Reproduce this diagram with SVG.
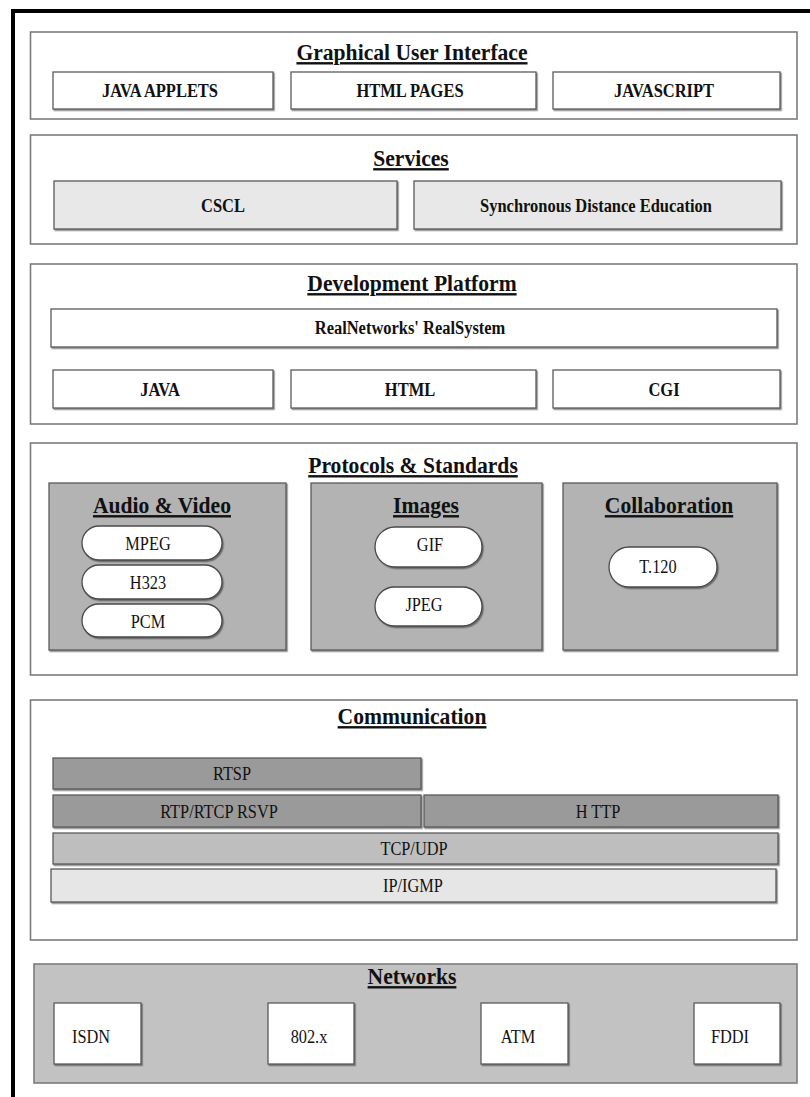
<svg xmlns="http://www.w3.org/2000/svg" width="810" height="1097" viewBox="0 0 810 1097">
  <defs>
    <filter id="sh" x="-5%" y="-10%" width="110%" height="130%">
      <feDropShadow dx="1.2" dy="1.4" stdDeviation="0.6" flood-color="#333" flood-opacity="0.55"/>
    </filter>
    <style>
      .sec { fill: #ffffff; stroke: #7c7c7c; stroke-width: 1.6; }
      .box { fill: #ffffff; stroke: #5a5a5a; stroke-width: 1.3; filter: url(#sh); }
      .lite { fill: #e8e8e8; }
      .mid { fill: #b3b3b3; }
      .dark { fill: #9a9a9a; }
      .tcp { fill: #bebebe; }
      .ip { fill: #e6e6e6; }
      .net { fill: #c2c2c2; }
      .pill { fill: #ffffff; stroke: #4a4a4a; stroke-width: 1.3; filter: url(#sh); }
      text { font-family: "Liberation Serif", "Times New Roman", serif; fill: #111111; text-anchor: middle;
             transform-box: fill-box; transform-origin: center; }
      .title { font-size: 24px; font-weight: bold; text-decoration: underline; transform: scaleX(0.9); }
      .lb { font-size: 18.5px; font-weight: bold; transform: scaleX(0.89); }
      .lr { font-size: 19px; transform: scaleX(0.86); }
    </style>
  </defs>

  <rect width="810" height="1097" fill="#ffffff"/>

  <!-- outer frame -->
  <path d="M13,1097 V11 H810" fill="none" stroke="#000" stroke-width="4"/>

  <!-- Graphical User Interface layer -->
  <g id="gui">
    <rect class="sec" x="30.5" y="32" width="766.5" height="87"/>
    <text class="title" x="412" y="60">Graphical User Interface</text>
    <g id="java-applets">
      <rect class="box" x="53" y="72" width="220" height="37"/>
      <text class="lb" x="160" y="97">JAVA APPLETS</text>
    </g>
    <g id="html-pages">
      <rect class="box" x="291" y="72" width="245" height="37"/>
      <text class="lb" x="410" y="97">HTML PAGES</text>
    </g>
    <g id="javascript">
      <rect class="box" x="553" y="72" width="227" height="37"/>
      <text class="lb" x="664" y="97">JAVASCRIPT</text>
    </g>
  </g>

  <!-- Services layer -->
  <g id="services">
    <rect class="sec" x="30.5" y="135" width="766.5" height="109"/>
    <text class="title" x="411" y="166">Services</text>
    <g id="cscl">
      <rect class="box lite" x="54" y="181" width="343" height="48"/>
      <text class="lb" x="223" y="212">CSCL</text>
    </g>
    <g id="sde">
      <rect class="box lite" x="414" y="181" width="367" height="48"/>
      <text class="lb" x="596" y="212">Synchronous Distance Education</text>
    </g>
  </g>

  <!-- Development Platform layer -->
  <g id="dev-platform">
    <rect class="sec" x="30.5" y="264" width="766.5" height="160"/>
    <text class="title" x="412" y="291">Development Platform</text>
    <g id="realsystem">
      <rect class="box" x="51" y="309" width="726" height="38"/>
      <text class="lb" x="410" y="334">RealNetworks' RealSystem</text>
    </g>
    <g id="java">
      <rect class="box" x="53" y="370" width="220" height="38"/>
      <text class="lb" x="160" y="396">JAVA</text>
    </g>
    <g id="html">
      <rect class="box" x="291" y="370" width="245" height="38"/>
      <text class="lb" x="410" y="396">HTML</text>
    </g>
    <g id="cgi">
      <rect class="box" x="553" y="370" width="227" height="38"/>
      <text class="lb" x="664" y="396">CGI</text>
    </g>
  </g>

  <!-- Protocols & Standards layer -->
  <g id="protocols">
    <rect class="sec" x="30.5" y="443" width="766.5" height="232"/>
    <text class="title" x="413" y="473">Protocols &amp; Standards</text>

    <g id="audio-video">
      <rect class="box mid" x="49" y="483" width="237" height="167"/>
      <text class="title" x="162" y="513">Audio &amp; Video</text>
      <g id="mpeg">
        <rect class="pill" x="82" y="526" width="140" height="34" rx="17"/>
        <text class="lr" x="148" y="550">MPEG</text>
      </g>
      <g id="h323">
        <rect class="pill" x="82" y="565" width="140" height="34" rx="17"/>
        <text class="lr" x="148" y="589">H323</text>
      </g>
      <g id="pcm">
        <rect class="pill" x="82" y="604" width="140" height="33" rx="16.5"/>
        <text class="lr" x="148" y="628">PCM</text>
      </g>
    </g>

    <g id="images">
      <rect class="box mid" x="311" y="483" width="231" height="167"/>
      <text class="title" x="426" y="513">Images</text>
      <g id="gif">
        <rect class="pill" x="375" y="527" width="107" height="40" rx="20"/>
        <text class="lr" x="430" y="551">GIF</text>
      </g>
      <g id="jpeg">
        <rect class="pill" x="375" y="587" width="107" height="39" rx="19.5"/>
        <text class="lr" x="424" y="611">JPEG</text>
      </g>
    </g>

    <g id="collaboration">
      <rect class="box mid" x="563" y="483" width="214" height="167"/>
      <text class="title" x="669" y="513">Collaboration</text>
      <g id="t120">
        <rect class="pill" x="609" y="547" width="108" height="40" rx="20"/>
        <text class="lr" x="658" y="573">T.120</text>
      </g>
    </g>
  </g>

  <!-- Communication layer -->
  <g id="communication">
    <rect class="sec" x="30.5" y="700" width="766.5" height="240"/>
    <text class="title" x="412" y="724">Communication</text>
    <g id="rtsp">
      <rect class="box dark" x="53" y="758" width="368" height="31"/>
      <text class="lr" x="232" y="780">RTSP</text>
    </g>
    <g id="rtp">
      <rect class="box dark" x="53" y="795" width="368" height="32"/>
      <text class="lr" x="219" y="818">RTP/RTCP RSVP</text>
    </g>
    <g id="http">
      <rect class="box dark" x="424" y="795" width="354" height="32"/>
      <text class="lr" x="598" y="818">H TTP</text>
    </g>
    <g id="tcp-udp">
      <rect class="box tcp" x="53" y="833" width="725" height="31"/>
      <text class="lr" x="414" y="855">TCP/UDP</text>
    </g>
    <g id="ip-igmp">
      <rect class="box ip" x="51" y="869" width="725" height="33"/>
      <text class="lr" x="413" y="892">IP/IGMP</text>
    </g>
  </g>

  <!-- Networks layer -->
  <g id="networks">
    <rect class="sec net" x="34" y="964" width="763" height="119" stroke="#6a6a6a"/>
    <text class="title" x="412" y="984">Networks</text>
    <g id="isdn">
      <rect class="box" x="54" y="1003" width="87" height="61"/>
      <text class="lr" x="91" y="1043">ISDN</text>
    </g>
    <g id="ieee802">
      <rect class="box" x="268" y="1003" width="86" height="61"/>
      <text class="lr" x="309" y="1043">802.x</text>
    </g>
    <g id="atm">
      <rect class="box" x="481" y="1003" width="87" height="61"/>
      <text class="lr" x="518" y="1043">ATM</text>
    </g>
    <g id="fddi">
      <rect class="box" x="694" y="1003" width="86" height="61"/>
      <text class="lr" x="730" y="1043">FDDI</text>
    </g>
  </g>
</svg>
